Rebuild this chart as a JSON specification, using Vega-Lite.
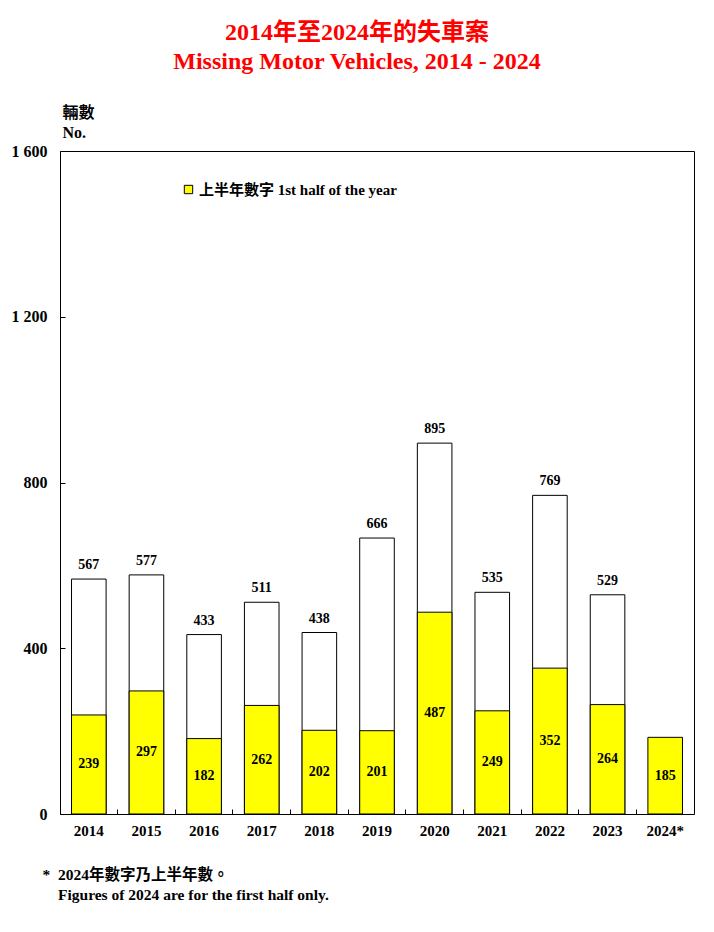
{
  "$schema": "https://vega.github.io/schema/vega-lite/v6.json",
  "autosize": "none",
  "width": 634,
  "height": 663,
  "padding": {"left": 60, "top": 151, "right": 20, "bottom": 118},
  "background": "white",
  "title": {
    "text": ["2014年至2024年的失車案", "Missing Motor Vehicles, 2014 - 2024"],
    "fontSize": 24,
    "color": "#ff0000",
    "font": "Liberation Serif, Noto Sans CJK TC",
    "fontWeight": "bold",
    "anchor": "middle",
    "frame": "group",
    "dx": -20,
    "offset": 30,
    "lineHeight": 29
  },
  "config": {
    "font": "Liberation Serif, Noto Sans CJK TC",
    "view": {"stroke": "black", "strokeWidth": 1},
    "axis": {"grid": false, "domain": false, "labelFont": "Liberation Serif, Noto Sans CJK TC", "labelFontWeight": "bold", "labelFontSize": 15, "labelColor": "black", "tickColor": "black", "titleColor": "black", "titleFont": "Liberation Serif, Noto Sans CJK TC", "titleFontWeight": "bold", "titleFontSize": 15.5}
  },
  "data": {
    "values": [
      {"year": "2014", "total": 567, "half": 239},
      {"year": "2015", "total": 577, "half": 297},
      {"year": "2016", "total": 433, "half": 182},
      {"year": "2017", "total": 511, "half": 262},
      {"year": "2018", "total": 438, "half": 202},
      {"year": "2019", "total": 666, "half": 201},
      {"year": "2020", "total": 895, "half": 487},
      {"year": "2021", "total": 535, "half": 249},
      {"year": "2022", "total": 769, "half": 352},
      {"year": "2023", "total": 529, "half": 264},
      {"year": "2024*", "total": null, "half": 185}
    ]
  },
  "encoding": {
    "x": {
      "field": "year", "type": "nominal", "sort": null,
      "scale": {"paddingInner": 0, "paddingOuter": 0},
      "axis": {
        "labelAngle": 0, "bandPosition": 0, "tickSize": -5, "labelPadding": 14,
        "title": ["*\u00a0\u00a02024年數字乃上半年數。", "\u200b\u00a0\u00a0\u00a0\u00a0Figures of 2024 are for the first half only."],
        "titleAnchor": "start", "titleAlign": "left", "titleBaseline": "top",
        "titleX": -18, "titleY": 53, "titleLineHeight": 20
      }
    }
  },
  "layer": [
    {
      "layer": [
        {
          "mark": {"type": "bar", "fill": "white", "stroke": "black", "strokeWidth": 1, "width": {"band": 0.6}},
          "encoding": {
            "y": {
              "field": "total", "type": "quantitative",
              "scale": {"domain": [0, 1600], "nice": false},
              "axis": {
                "values": [0, 400, 800, 1200, 1600], "tickSize": -5, "labelPadding": 18, "labelFontSize": 16,
                "labelExpr": "replace(format(datum.value, ','), ',', ' ')",
                "title": ["輛數", "No."], "titleAngle": 0, "titleAlign": "left", "titleBaseline": "top",
                "titleX": 2, "titleY": -47, "titleLineHeight": 20, "titleFontSize": 16
              }
            }
          }
        },
        {
          "mark": {"type": "bar", "stroke": "black", "strokeWidth": 1, "width": {"band": 0.6}},
          "encoding": {
            "y": {"field": "half", "type": "quantitative"},
            "fill": {
              "datum": "上半年數字  1st half of the year",
              "type": "nominal",
              "scale": {"range": ["#ffff00"]},
              "legend": {
                "title": null, "orient": "none", "legendX": 121, "legendY": 31,
                "symbolType": "square", "symbolSize": 70, "symbolStrokeColor": "black", "symbolStrokeWidth": 1,
                "labelFontSize": 15, "labelFontWeight": "bold", "labelColor": "black", "labelLimit": 400,
                "labelFont": "Liberation Serif, Noto Sans CJK TC", "labelOffset": 3
              }
            }
          }
        },
        {
          "mark": {"type": "text", "baseline": "bottom", "dy": -7, "fontSize": 14, "fontWeight": "bold", "color": "black"},
          "encoding": {
            "y": {"field": "total", "type": "quantitative"},
            "text": {"field": "total", "type": "quantitative"}
          }
        }
      ]
    },
    {
      "mark": {"type": "text", "baseline": "middle", "fontSize": 14, "fontWeight": "bold", "color": "black"},
      "encoding": {
        "y": {"field": "half", "type": "quantitative", "scale": {"domain": [0, 3200], "nice": false}, "axis": null},
        "text": {"field": "half", "type": "quantitative"}
      }
    }
  ],
  "resolve": {"scale": {"y": "independent"}}
}
